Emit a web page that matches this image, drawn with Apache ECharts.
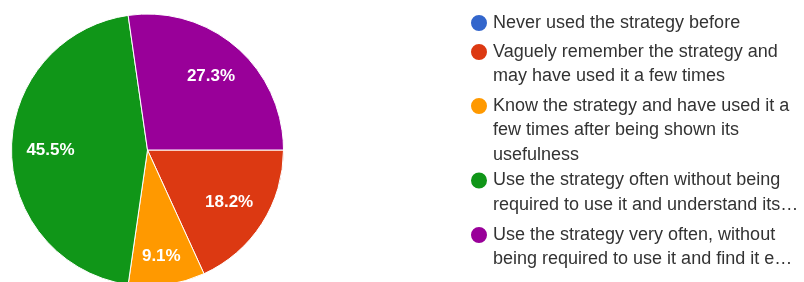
<!DOCTYPE html>
<html>
<head>
<meta charset="utf-8">
<script src="https://cdn.jsdelivr.net/npm/echarts@6/dist/echarts.min.js"></script>
<style>
  html, body { margin: 0; padding: 0; background: #fff; }
  #chart { width: 804px; height: 282px; }
</style>
</head>
<body>
<div id="chart"></div>
<script>
// answers, in order around the pie (clockwise from 3 o'clock)
const names = [
    'Never used the strategy before',
    'Vaguely remember the strategy and may have used it a few times',
    'Know the strategy and have used it a few times after being shown its usefulness',
    'Use the strategy often without being required to use it and understand its…',
    'Use the strategy very often, without being required to use it and find it e…'
];
// legend text as it is wrapped in the picture
const legendLines = [
    ['Never used the strategy before'],
    ['Vaguely remember the strategy and', 'may have used it a few times'],
    ['Know the strategy and have used it a', 'few times after being shown its', 'usefulness'],
    ['Use the strategy often without being', 'required to use it and understand its…'],
    ['Use the strategy very often, without', 'being required to use it and find it e…']
];
const counts = [0, 2, 1, 5, 3];
const colors = ['#3366cc', '#dc3912', '#ff9900', '#109618', '#990099'];

const total = counts.reduce((a, b) => a + b, 0);
const lh = 24.3;
const legendMid = [23, 52, 106, 180.5, 235]; // centre of first legend line

const pieData = names.map((n, i) => ({ name: n, value: counts[i], itemStyle: { color: colors[i] } }));

const chart = echarts.init(document.getElementById('chart'));
chart.setOption({
    backgroundColor: '#fff',
    animation: false,
    // one legend per answer; blank lines on top keep the dot beside the first line
    legend: names.map((n, i) => {
        const k = legendLines[i].length;
        return {
            orient: 'vertical', left: 469, top: legendMid[i] - (2 * k - 1) * lh / 2,
            padding: 0, icon: 'circle', itemWidth: 18, itemHeight: 18, selectedMode: false,
            data: [n],
            formatter: () => '\n'.repeat(k - 1) + legendLines[i].join('\n'),
            textStyle: { fontFamily: 'Liberation Sans', fontSize: 18, lineHeight: lh, color: '#333' }
        };
    }),
    series: [
        {
            type: 'pie', center: [147.5, 150], radius: 136, startAngle: 0, clockwise: true,
            silent: true, label: { show: false }, labelLine: { show: false },
            itemStyle: { borderColor: '#fff', borderWidth: 1 },
            data: pieData
        },
        {
            // transparent ring that only carries the percentage labels
            type: 'pie', center: [147.5, 150], radius: [52, 136], startAngle: 0, clockwise: true,
            silent: true, labelLine: { show: false },
            itemStyle: { color: 'rgba(0,0,0,0)' },
            label: {
                show: true, position: 'inside', color: '#fff',
                fontFamily: 'Liberation Sans', fontSize: 17, fontWeight: 'bold',
                formatter: p => p.value ? (p.value / total * 100).toFixed(1) + '%' : ''
            },
            labelLayout: p => p.dataIndex === 2 ? { dy: 10 } : {},
            data: names.map((n, i) => ({ name: n, value: counts[i] }))
        }
    ]
});
</script>
</body>
</html>
